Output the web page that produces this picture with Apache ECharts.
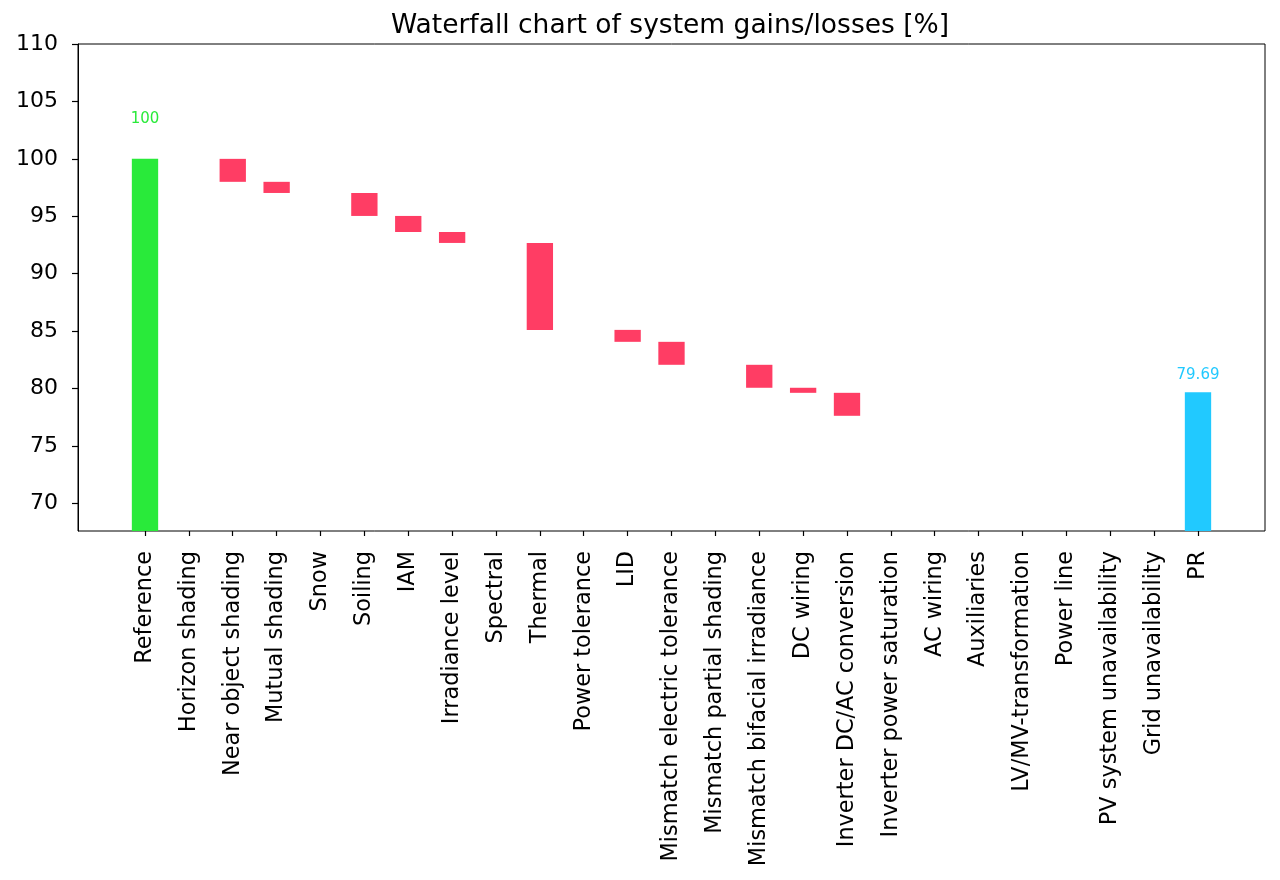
<!DOCTYPE html>
<html>
<head>
<meta charset="utf-8">
<script src="https://cdn.jsdelivr.net/npm/echarts@6/dist/echarts.min.js"></script>
<style>
  html, body { margin: 0; padding: 0; background: #fff; }
  #chart { width: 1280px; height: 880px; }
</style>
</head>
<body>
<div id="chart"></div>
<script>
// categories along the x axis
const categories = [
  'Reference', 'Horizon shading', 'Near object shading', 'Mutual shading', 'Snow',
  'Soiling', 'IAM', 'Irradiance level', 'Spectral', 'Thermal', 'Power tolerance',
  'LID', 'Mismatch electric tolerance', 'Mismatch partial shading',
  'Mismatch bifacial irradiance', 'DC wiring', 'Inverter DC/AC conversion',
  'Inverter power saturation', 'AC wiring', 'Auxiliaries', 'LV/MV-transformation',
  'Power line', 'PV system unavailability', 'Grid unavailability', 'PR'
];
// losses in percentage points (first = reference, last = PR)
const losses = [0, 0, 2.0, 0.97, 0, 2.0, 1.40, 0.95, 0, 7.57, 0, 1.04, 2.0, 0, 2.0, 0.44, 2.0, 0, 0, 0, 0, 0, 0, 0, 0];
const referenceValue = 100;
const prValue = 79.69;
const yTicks = [70, 75, 80, 85, 90, 95, 100, 105, 110];
const yMin = 67.6, yMax = 110;

const font = 'DejaVu Sans';
const green = '#29EA3A', red = '#FF3D64', cyan = '#21C9FF';

// running level for the waterfall
let level = referenceValue;
const baseData = [], lossData = [];
losses.forEach((l, i) => {
  if (i > 0 && i < categories.length - 1 && l > 0) {
    level -= l;
    baseData.push(level);
    lossData.push(l);
  } else {
    baseData.push('-');
    lossData.push('-');
  }
});
const refData = categories.map((c, i) => i === 0 ? referenceValue : '-');
const prData = categories.map((c, i) => i === categories.length - 1 ? prValue : '-');

const chart = echarts.init(document.getElementById('chart'), null, { renderer: 'canvas' });
chart.setOption({
  animation: false,
  backgroundColor: '#fff',
  title: {
    text: 'Waterfall chart of system gains/losses [%]',
    left: 391,
    top: 13,
    padding: 0,
    textStyle: { fontFamily: font, fontSize: 26.5, fontWeight: 'normal', color: '#000' }
  },
  grid: [
    { left: 78, right: 15, top: 44, bottom: 349, show: true, borderColor: '#000', borderWidth: 1, outerBoundsMode: 'none' },
    { left: 123.06, width: 1096.875, top: 44, bottom: 349, outerBoundsMode: 'none' }
  ],
  xAxis: [
    { type: 'value', gridIndex: 0, show: false, min: 0, max: 1 },
    {
      type: 'category', gridIndex: 1, data: categories,
      axisLine: { show: false },
      axisTick: { show: true, alignWithLabel: true, length: 5, lineStyle: { color: '#000', width: 1.2 } },
      axisLabel: { rotate: 90, margin: 20, fontFamily: font, fontSize: 22.4, color: '#000', interval: 0 }
    }
  ],
  yAxis: [
    {
      type: 'value', gridIndex: 0, min: yMin, max: yMax,
      splitLine: { show: false },
      axisLine: { show: true, lineStyle: { color: '#000', width: 1 } },
      axisTick: { show: true, length: 6, customValues: yTicks, lineStyle: { color: '#000', width: 1.2 } },
      axisLabel: { customValues: yTicks, margin: 20, fontFamily: font, fontSize: 22, color: '#000' }
    },
    { type: 'value', gridIndex: 1, min: yMin, max: yMax, show: false, splitLine: { show: false } }
  ],
  series: [
    {
      name: 'base', type: 'bar', xAxisIndex: 1, yAxisIndex: 1, stack: 'w',
      barWidth: '60%', itemStyle: { color: 'transparent' }, data: baseData
    },
    {
      name: 'loss', type: 'bar', xAxisIndex: 1, yAxisIndex: 1, stack: 'w',
      barWidth: '60%', itemStyle: { color: red }, data: lossData
    },
    {
      name: 'reference', type: 'bar', xAxisIndex: 1, yAxisIndex: 1,
      barWidth: '60%', barGap: '-100%', itemStyle: { color: green }, data: refData,
      label: { show: true, position: 'top', distance: 32, fontFamily: font, fontSize: 15, color: green }
    },
    {
      name: 'pr', type: 'bar', xAxisIndex: 1, yAxisIndex: 1,
      barWidth: '60%', barGap: '-100%', itemStyle: { color: cyan }, data: prData,
      label: { show: true, position: 'top', distance: 9.5, fontFamily: font, fontSize: 15, color: cyan }
    }
  ]
});
</script>
</body>
</html>
